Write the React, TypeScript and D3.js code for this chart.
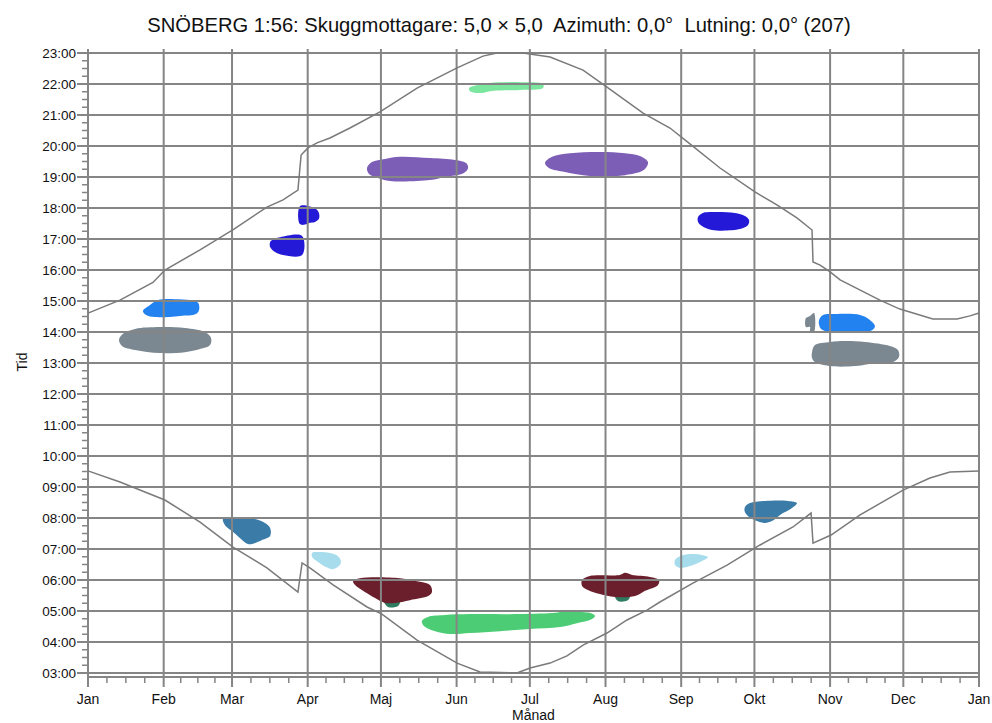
import React from "react";
import * as d3 from "d3";

// ---------- DATA ----------
const TITLE = "SNÖBERG 1:56: Skuggmottagare: 5,0 × 5,0  Azimuth: 0,0°  Lutning: 0,0° (207)";
const X_TITLE = "Månad";
const Y_TITLE = "Tid";

const MONTH_STARTS = [0, 31, 59, 90, 120, 151, 181, 212, 243, 273, 304, 334, 365];
const MONTH_LABELS = ["Jan", "Feb", "Mar", "Apr", "Maj", "Jun", "Jul", "Aug", "Sep", "Okt", "Nov", "Dec", "Jan"];
const HOUR_VALUES = [3, 4, 5, 6, 7, 8, 9, 10, 11, 12, 13, 14, 15, 16, 17, 18, 19, 20, 21, 22, 23];
const HOUR_LABELS = ["03:00", "04:00", "05:00", "06:00", "07:00", "08:00", "09:00", "10:00", "11:00", "12:00", "13:00",
  "14:00", "15:00", "16:00", "17:00", "18:00", "19:00", "20:00", "21:00", "22:00", "23:00"];

// sunset (upper curve) [dayOfYear, hour]
const SUNSET: [number, number][] = [
  [0, 14.61], [13.1, 15.03], [26.6, 15.6], [31.5, 16.0], [45.9, 16.65], [59.8, 17.32], [73.3, 18.03], [79.9, 18.26],
  [86.0, 18.58], [87.3, 19.71], [90.1, 19.94], [93.8, 20.1], [99.1, 20.26], [107.3, 20.58], [119.6, 21.1],
  [134.8, 21.87], [151.2, 22.52], [161.8, 22.9], [167.5, 23.0], [178.2, 23.0], [189.3, 22.87], [202.8, 22.45],
  [212.6, 21.9], [227.4, 21.06], [238.4, 20.58], [245.3, 20.15], [258.9, 19.29], [273.2, 18.52], [282.2, 18.1],
  [290.4, 17.68], [296.6, 17.29], [297.0, 16.26], [299.9, 16.16], [304.0, 15.94], [308.1, 15.68], [324.4, 15.03],
  [332.6, 14.74], [346.1, 14.42], [356.0, 14.42], [361.3, 14.52], [365, 14.61],
];

// sunrise (lower curve) [dayOfYear, hour]
const SUNRISE: [number, number][] = [
  [0, 9.52], [13.1, 9.16], [31.5, 8.58], [45.9, 7.87], [59.4, 7.06], [73.3, 6.39], [86.0, 5.61], [87.7, 6.55],
  [90.9, 6.39], [100.4, 5.84], [114.3, 5.13], [120.4, 4.9], [134.8, 4.06], [151.2, 3.32], [160.6, 3.03],
  [175.7, 3.0], [181.1, 3.16], [189.3, 3.32], [196.2, 3.55], [202.8, 3.9], [212.6, 4.29], [220.8, 4.71],
  [229.0, 5.03], [234.3, 5.29], [247.8, 5.9], [261.8, 6.48], [275.3, 7.13], [288.8, 7.71], [296.2, 8.16],
  [297.0, 7.19], [304.4, 7.45], [316.3, 8.1], [333.9, 8.9], [344.9, 9.29], [353.1, 9.48], [365, 9.52],
];

// shadow patches: outlines as [dayOfYear, hour]
const SHADOW_LIGHTGREEN: [number, number][] = [
  [156.1, 21.87], [159.8, 21.97], [164.7, 22.03], [177.0, 22.06], [186.4, 22.0], [186.4, 21.87],
  [177.0, 21.81], [164.7, 21.77], [161.4, 21.71], [156.5, 21.77],
];
const SHADOW_PURPLE_1: [number, number][] = [
  [114.3, 19.29], [116.3, 19.48], [121.7, 19.58], [127.8, 19.65], [140.1, 19.61], [150.3, 19.55], [154.9, 19.45],
  [155.7, 19.29], [154.0, 19.13], [146.2, 19.0], [140.1, 18.9], [123.7, 18.87], [118.8, 18.97], [115.1, 19.1],
];
const SHADOW_PURPLE_2: [number, number][] = [
  [187.2, 19.45], [190.1, 19.65], [197.5, 19.77], [209.7, 19.81], [220.0, 19.77], [226.1, 19.68], [229.4, 19.48],
  [227.8, 19.23], [220.0, 19.06], [205.6, 19.03], [195.4, 19.16], [188.8, 19.29],
];
const SHADOW_BLUE_1: [number, number][] = [
  [86.8, 18.06], [90.5, 18.06], [93.4, 17.97], [94.6, 17.84], [94.6, 17.65], [93.0, 17.55], [90.5, 17.52],
  [89.7, 17.48], [86.8, 17.48],
];
const SHADOW_BLUE_2: [number, number][] = [
  [75.4, 16.97], [78.7, 17.06], [87.7, 17.1], [87.7, 16.48], [79.9, 16.48], [76.6, 16.58], [74.6, 16.74], [74.6, 16.9],
];
const SHADOW_BLUE_3: [number, number][] = [
  [249.9, 17.71], [251.9, 17.84], [255.6, 17.87], [265.0, 17.84], [269.1, 17.74], [270.8, 17.61], [270.4, 17.45],
  [267.1, 17.32], [255.6, 17.29], [251.5, 17.42], [249.9, 17.55],
];
const SHADOW_SKY_1: [number, number][] = [
  [22.5, 14.68], [25.4, 14.87], [28.7, 15.03], [35.6, 15.06], [41.8, 15.03], [45.1, 14.94], [45.5, 14.71],
  [44.2, 14.58], [37.7, 14.52], [27.4, 14.48], [23.8, 14.55],
];
const SHADOW_SKY_2: [number, number][] = [
  [299.5, 14.39], [301.1, 14.55], [306.0, 14.58], [316.3, 14.55], [320.3, 14.39], [322.4, 14.19], [321.2, 14.06],
  [314.2, 14.0], [304.0, 14.0], [300.3, 14.1], [299.5, 14.23],
];
const SHADOW_SLATE_SLIVER: [number, number][] = [
  [294.1, 14.45], [295.8, 14.52], [297.4, 14.61], [297.4, 14.0], [295.8, 14.03], [295.8, 14.16], [294.1, 14.16],
];
const SHADOW_SLATE_1: [number, number][] = [
  [12.7, 13.74], [14.3, 13.94], [19.3, 14.1], [29.5, 14.16], [39.7, 14.13], [47.9, 14.0], [50.4, 13.81],
  [50.0, 13.58], [45.9, 13.45], [39.7, 13.35], [29.5, 13.32], [19.3, 13.42], [13.9, 13.55],
];
const SHADOW_SLATE_2: [number, number][] = [
  [296.6, 13.35], [297.8, 13.58], [304.0, 13.68], [310.1, 13.71], [318.3, 13.68], [328.5, 13.55], [331.8, 13.42],
  [332.2, 13.19], [329.8, 13.03], [320.3, 12.97], [314.2, 12.9], [304.0, 12.9], [297.8, 13.03], [296.6, 13.16],
];
const SHADOW_STEEL_1: [number, number][] = [
  [55.3, 7.97], [59.4, 8.0], [68.4, 7.97], [72.5, 7.84], [74.6, 7.68], [74.6, 7.42], [71.3, 7.29], [67.2, 7.16],
  [65.5, 7.16], [62.3, 7.35], [59.0, 7.58], [56.1, 7.77],
];
const SHADOW_STEEL_2: [number, number][] = [
  [269.1, 8.35], [271.2, 8.48], [277.3, 8.55], [286.8, 8.55], [290.4, 8.48], [288.4, 8.32], [283.5, 8.1],
  [280.2, 7.9], [277.3, 7.84], [274.1, 7.9], [270.4, 8.06], [269.1, 8.19],
];
const SHADOW_PALE_1: [number, number][] = [
  [91.8, 6.87], [94.2, 6.9], [99.1, 6.87], [102.4, 6.77], [103.6, 6.61], [103.2, 6.48], [100.4, 6.35],
  [97.5, 6.42], [94.2, 6.58], [91.8, 6.74],
];
const SHADOW_PALE_2: [number, number][] = [
  [240.5, 6.65], [242.5, 6.77], [246.6, 6.84], [251.5, 6.81], [254.0, 6.74], [250.7, 6.58], [246.6, 6.45],
  [242.5, 6.39], [240.5, 6.48],
];
const SHADOW_TEAL_1: [number, number][] = [
  [121.3, 5.32], [127.8, 5.32], [127.0, 5.16], [122.9, 5.13],
];
const SHADOW_TEAL_2: [number, number][] = [
  [215.9, 5.48], [222.0, 5.48], [221.2, 5.35], [217.1, 5.32],
];
const SHADOW_MAROON_1: [number, number][] = [
  [108.6, 5.97], [111.4, 6.06], [127.8, 6.06], [136.0, 5.94], [140.1, 5.84], [140.9, 5.61], [139.3, 5.48],
  [131.9, 5.35], [125.8, 5.26], [121.7, 5.26], [117.6, 5.42], [112.2, 5.68], [109.4, 5.84],
];
const SHADOW_MAROON_2: [number, number][] = [
  [202.4, 6.0], [205.6, 6.13], [217.9, 6.16], [220.0, 6.23], [222.9, 6.16], [230.2, 6.1], [233.9, 6.0],
  [233.5, 5.84], [228.2, 5.65], [224.1, 5.48], [215.9, 5.45], [209.7, 5.55], [204.8, 5.68], [202.4, 5.81],
];
const SHADOW_GREEN: [number, number][] = [
  [136.8, 4.68], [139.3, 4.81], [146.2, 4.87], [156.5, 4.9], [177.0, 4.9], [191.3, 4.94], [193.4, 4.97],
  [197.5, 4.97], [205.6, 4.94], [207.7, 4.84], [206.5, 4.74], [200.7, 4.61], [193.4, 4.48], [181.1, 4.42],
  [168.8, 4.35], [156.5, 4.29], [148.3, 4.26], [142.2, 4.35], [137.6, 4.52],
];

const SHADOWS = [
  SHADOW_LIGHTGREEN, SHADOW_PURPLE_1, SHADOW_PURPLE_2, SHADOW_BLUE_1, SHADOW_BLUE_2, SHADOW_BLUE_3,
  SHADOW_SKY_1, SHADOW_SKY_2, SHADOW_SLATE_SLIVER, SHADOW_SLATE_1, SHADOW_SLATE_2, SHADOW_STEEL_1,
  SHADOW_STEEL_2, SHADOW_PALE_1, SHADOW_PALE_2, SHADOW_TEAL_1, SHADOW_TEAL_2, SHADOW_MAROON_1,
  SHADOW_MAROON_2, SHADOW_GREEN,
];
const SHADOW_COLORS = [
  "#7be69d", "#7c5eb7", "#7c5eb7", "#2419d6", "#2419d6", "#2419d6",
  "#2282f0", "#2282f0", "#7b8891", "#7b8891", "#7b8891", "#3a7ba7",
  "#3a7ba7", "#a6dcec", "#a6dcec", "#2e7b5f", "#2e7b5f", "#6b1e2b",
  "#6b1e2b", "#4ccd75",
];

// ---------- CHART ----------
const W = 992;
const H = 723;
const M = { left: 88, right: 979, top: 53, bottom: 673 };
const GRID = "#858585";
const FONT = "'Liberation Sans', Arial, sans-serif";

export default function App() {
  const x = d3.scaleLinear().domain([0, 365]).range([M.left, M.right]);
  const y = d3.scaleLinear().domain([3, 23]).range([M.bottom, M.top]);
  const axisY = M.bottom + 4;

  const blobPath = d3.line<[number, number]>()
    .x((d) => x(d[0]))
    .y((d) => y(d[1]))
    .curve(d3.curveCatmullRomClosed.alpha(0.5));
  const sunPath = d3.line<[number, number]>()
    .x((d) => x(d[0]))
    .y((d) => y(d[1]));

  const minorX: number[] = [];
  for (let i = 0; i < MONTH_STARTS.length - 1; i++) {
    const a = MONTH_STARTS[i];
    const b = MONTH_STARTS[i + 1];
    for (let k = 1; k < 4; k++) minorX.push(a + ((b - a) * k) / 4);
  }
  const minorY: number[] = [];
  for (let h = 3; h < 23; h++) for (let k = 1; k < 4; k++) minorY.push(h + k / 4);

  return (
    <svg width={W} height={H} style={{ position: "absolute", left: 0, top: 0, background: "#fff" }}
      fontFamily={FONT}>
      <rect x={0} y={0} width={W} height={H} fill="#fff" />
      <text x={W / 2 + 3} y={31.5} textAnchor="middle" fontSize={20.2} fill="#111"
        style={{ whiteSpace: "pre" }} xmlSpace="preserve">{TITLE}</text>

      {/* shadow patches */}
      <g>
        {SHADOWS.map((pts, i) => (
          <path key={i} d={blobPath(pts) || ""} fill={SHADOW_COLORS[i]} stroke="none" />
        ))}
      </g>

      {/* grid */}
      <g stroke={GRID} strokeWidth={2}>
        {HOUR_VALUES.map((h) => (
          <line key={"h" + h} x1={M.left} x2={M.right} y1={y(h)} y2={y(h)} />
        ))}
        {MONTH_STARTS.map((d, i) => (
          <line key={"m" + i} x1={x(d)} x2={x(d)} y1={M.top - 4} y2={axisY + 10} />
        ))}
        <line x1={M.left} x2={M.right} y1={axisY} y2={axisY} />
      </g>
      {/* minor ticks */}
      <g stroke={GRID} strokeWidth={1.5}>
        {minorX.map((d, i) => (
          <line key={"mx" + i} x1={x(d)} x2={x(d)} y1={axisY} y2={axisY + 6} />
        ))}
        {minorY.map((h, i) => (
          <line key={"my" + i} x1={M.left - 6} x2={M.left} y1={y(h)} y2={y(h)} />
        ))}
        {HOUR_VALUES.map((h) => (
          <line key={"My" + h} x1={M.left - 11} x2={M.left} y1={y(h)} y2={y(h)} strokeWidth={2} />
        ))}
      </g>

      {/* sun curves */}
      <path d={sunPath(SUNSET) || ""} fill="none" stroke="#7a7a7a" strokeWidth={1.5} />
      <path d={sunPath(SUNRISE) || ""} fill="none" stroke="#7a7a7a" strokeWidth={1.5} />

      {/* labels */}
      <g fontSize={13.5} fill="#111">
        {HOUR_VALUES.map((h, i) => (
          <text key={"yl" + h} x={M.left - 12} y={y(h) + 5} textAnchor="end">{HOUR_LABELS[i]}</text>
        ))}
        {MONTH_STARTS.map((d, i) => (
          <text key={"xl" + i} x={x(d)} y={704} textAnchor="middle" fontSize={14}>{MONTH_LABELS[i]}</text>
        ))}
      </g>
      <text x={(M.left + M.right) / 2} y={720} textAnchor="middle" fontSize={14} fill="#111">{X_TITLE}</text>
      <text transform={`translate(27, 362) rotate(-90)`} textAnchor="middle" fontSize={14} fill="#111">{Y_TITLE}</text>
    </svg>
  );
}
